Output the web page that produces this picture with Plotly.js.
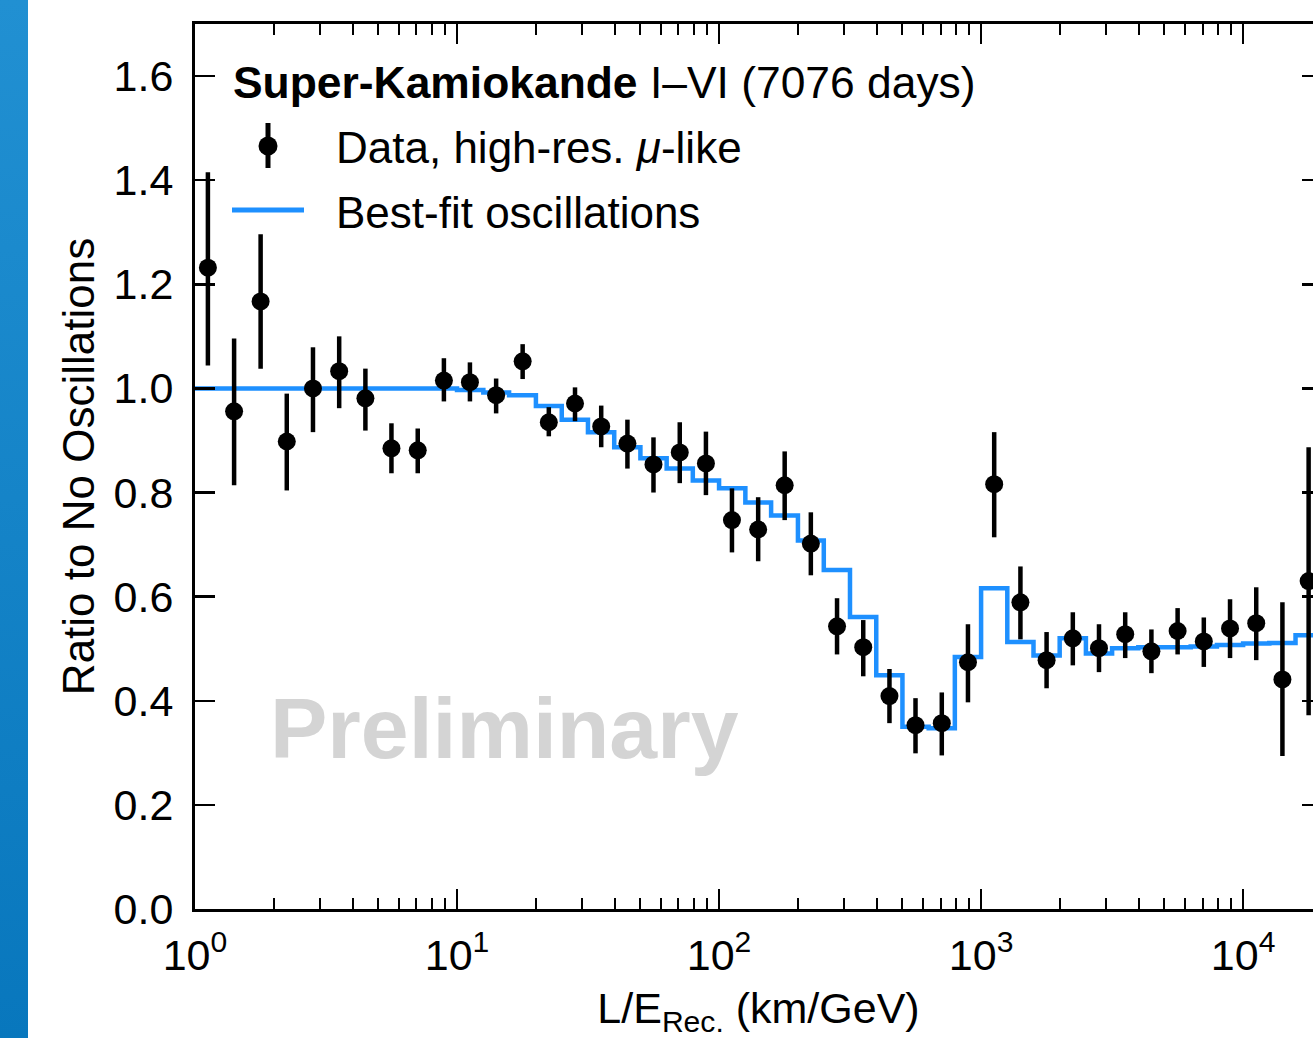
<!DOCTYPE html>
<html>
<head>
<meta charset="utf-8">
<script src="https://cdn.plot.ly/plotly-3.0.1.min.js"></script>
<style>
  html, body { margin: 0; padding: 0; overflow: hidden; background: #ffffff; }
  #chart { position: absolute; left: 0; top: 0; width: 1330px; height: 1038px; }
  #strip { position: absolute; left: 0; top: 0; width: 28px; height: 1038px;
           background: linear-gradient(to bottom, #2190d2, #0877bd); z-index: 5; }
</style>
</head>
<body>
<div id="chart"></div>
<div id="strip"></div>
<script>
// ---- data ----
// bin centres of L/E (km/GeV)
const binCenters = [1.12, 1.41, 1.78, 2.24, 2.82, 3.55, 4.47, 5.62, 7.08, 8.91,
  11.2, 14.1, 17.8, 22.4, 28.2, 35.5, 44.7, 56.2, 70.8, 89.1,
  112, 141, 178, 224, 282, 355, 447, 562, 708, 891,
  1122, 1413, 1778, 2239, 2818, 3548, 4467, 5623, 7079, 8913,
  11220, 14125, 17783];
// data ratio
const dataRatio = [1.232, 0.956, 1.167, 0.898, 1.000, 1.033, 0.981, 0.885, 0.881, 1.015,
  1.012, 0.987, 1.052, 0.935, 0.971, 0.927, 0.894, 0.854, 0.877, 0.856,
  0.747, 0.729, 0.814, 0.702, 0.543, 0.503, 0.409, 0.353, 0.357, 0.474,
  0.816, 0.589, 0.478, 0.520, 0.501, 0.528, 0.495, 0.534, 0.514, 0.539,
  0.549, 0.441, 0.630];
const errPlus = [0.183, 0.140, 0.129, 0.092, 0.079, 0.067, 0.057, 0.048, 0.042, 0.043,
  0.038, 0.032, 0.033, 0.029, 0.031, 0.040, 0.046, 0.052, 0.058, 0.061,
  0.061, 0.062, 0.065, 0.060, 0.054, 0.052, 0.052, 0.052, 0.059, 0.073,
  0.100, 0.069, 0.054, 0.050, 0.046, 0.042, 0.042, 0.044, 0.046, 0.056,
  0.069, 0.148, 0.257];
const errMinus = [0.188, 0.142, 0.129, 0.094, 0.084, 0.071, 0.062, 0.048, 0.044, 0.040,
  0.037, 0.035, 0.034, 0.027, 0.034, 0.040, 0.048, 0.054, 0.059, 0.061,
  0.062, 0.061, 0.067, 0.061, 0.054, 0.056, 0.052, 0.054, 0.062, 0.077,
  0.102, 0.071, 0.054, 0.052, 0.046, 0.046, 0.042, 0.045, 0.049, 0.057,
  0.071, 0.147, 0.258];
// histogram bin edges and best-fit oscillation ratio per bin
const binEdges = [1, 1.26, 1.58, 2.0, 2.51, 3.16, 3.98, 5.01, 6.31, 7.94,
  10, 12.6, 15.8, 20.0, 25.1, 31.6, 39.8, 50.1, 63.1, 79.4,
  100, 126, 158, 200, 251, 316, 398, 501, 631, 794,
  1000, 1259, 1585, 1995, 2512, 3162, 3981, 5012, 6310, 7943,
  10000, 12589, 15849, 19953];
const bestFit = [1.000, 1.000, 1.000, 1.000, 1.000, 1.000, 1.000, 1.000, 1.000, 1.000,
  0.997, 0.992, 0.987, 0.966, 0.940, 0.916, 0.887, 0.866, 0.846, 0.823,
  0.808, 0.781, 0.756, 0.708, 0.651, 0.561, 0.449, 0.350, 0.347, 0.484,
  0.616, 0.513, 0.487, 0.520, 0.491, 0.501, 0.503, 0.503, 0.504, 0.507,
  0.510, 0.511, 0.526];
// tick labels
const xTickVals = [1, 10, 100, 1000, 10000];
const xTickText = ['10<sup>0</sup>', '10<sup>1</sup>', '10<sup>2</sup>', '10<sup>3</sup>', '10<sup>4</sup>'];

// ---- layout geometry ----
const W = 1330, H = 1038;
const M = {l: 195, r: 8, t: 24, b: 129};
const plotW = W - M.l - M.r, plotH = H - M.t - M.b;
const px = v => (v - M.l) / plotW;          // page px -> paper x
const py = v => (H - M.b - v) / plotH;       // page px -> paper y

const FONT = 'Liberation Sans, Arial, Helvetica, sans-serif';
const BLUE = '#1e90ff';

// minor ticks 2..9 per decade
const minorVals = [];
for (let d = 1; d <= 10000; d *= 10) for (let k = 2; k <= 9; k++) if (k * d <= 20000) minorVals.push(k * d);

const stepTrace = {
  x: binEdges,
  y: bestFit.concat([bestFit[bestFit.length - 1]]),
  type: 'scatter', mode: 'lines',
  line: {shape: 'hv', color: BLUE, width: 4.5},
  hoverinfo: 'skip', showlegend: false
};
const dataTrace = {
  x: binCenters, y: dataRatio,
  type: 'scatter', mode: 'markers',
  marker: {color: '#000', size: 18},
  error_y: {type: 'data', symmetric: false, array: errPlus, arrayminus: errMinus,
            color: '#000', thickness: 4.5, width: 0},
  showlegend: false, cliponaxis: false
};

const axisCommon = {
  showline: true, linecolor: '#000', linewidth: 3, mirror: 'allticks',
  ticks: 'inside', ticklen: 20, tickwidth: 2.5, tickcolor: '#000',
  showgrid: false, zeroline: false,
  tickfont: {family: FONT, size: 43, color: '#000'}
};

const layout = {
  width: W, height: H,
  margin: M,
  paper_bgcolor: '#fff', plot_bgcolor: '#fff',
  showlegend: false,
  font: {family: FONT, color: '#000'},
  xaxis: Object.assign({}, axisCommon, {
    type: 'log', range: [0, Math.log10(20000)], autorange: false,
    tickmode: 'array', tickvals: xTickVals, ticktext: xTickText,
    ticklabelstandoff: 6,
    minor: {tickmode: 'array', tickvals: minorVals, ticks: 'inside', ticklen: 11,
            tickwidth: 2, tickcolor: '#000', showgrid: false},
    title: {text: 'L/E<sub>Rec.</sub> (km/GeV)', font: {family: FONT, size: 43, color: '#000'}, standoff: 20}
  }),
  yaxis: Object.assign({}, axisCommon, {
    range: [0, 1.7], autorange: false, tick0: 0, dtick: 0.2, tickformat: '.1f',
    ticklabelstandoff: 10,
    title: {text: 'Ratio to No Oscillations', font: {family: FONT, size: 44, color: '#000'}, standoff: 6}
  }),
  shapes: [
    // legend: data symbol
    {type: 'line', xref: 'paper', yref: 'paper', x0: px(268), x1: px(268), y0: py(123), y1: py(168),
     line: {color: '#000', width: 5}},
    {type: 'circle', xref: 'paper', yref: 'paper', x0: px(258.5), x1: px(277.5), y0: py(136.5), y1: py(155.5),
     fillcolor: '#000', line: {color: '#000', width: 0}},
    // legend: best-fit line
    {type: 'line', xref: 'paper', yref: 'paper', x0: px(232), x1: px(304), y0: py(210), y1: py(210),
     line: {color: BLUE, width: 5}}
  ],
  annotations: [
    {xref: 'paper', yref: 'paper', x: px(231), y: py(82), xanchor: 'left', yanchor: 'middle', showarrow: false,
     text: '<b>Super-Kamiokande</b> I–VI (7076 days)', font: {family: FONT, size: 44.4, color: '#000'}},
    {xref: 'paper', yref: 'paper', x: px(334), y: py(147), xanchor: 'left', yanchor: 'middle', showarrow: false,
     text: 'Data, high-res. <i>μ</i>-like', font: {family: FONT, size: 44, color: '#000'}},
    {xref: 'paper', yref: 'paper', x: px(334), y: py(212), xanchor: 'left', yanchor: 'middle', showarrow: false,
     text: 'Best-fit oscillations', font: {family: FONT, size: 44, color: '#000'}},
    {xref: 'paper', yref: 'paper', x: px(268), y: py(728), xanchor: 'left', yanchor: 'middle', showarrow: false,
     text: '<b>Preliminary</b>', font: {family: FONT, size: 86, color: '#d4d4d4'}}
  ]
};

Plotly.newPlot('chart', [stepTrace, dataTrace], layout, {staticPlot: true, displayModeBar: false});
</script>
</body>
</html>
